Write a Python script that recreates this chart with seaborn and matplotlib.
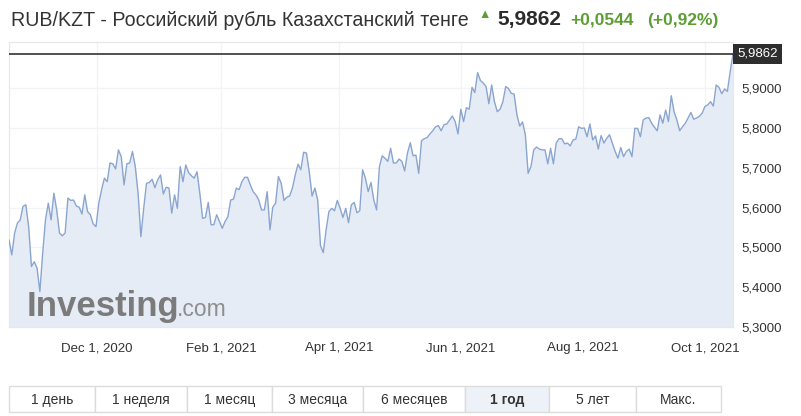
import pandas as pd
import numpy as np
import seaborn as sns
import matplotlib.pyplot as plt
from matplotlib.patches import Rectangle
from matplotlib.ticker import FuncFormatter
from matplotlib.transforms import blended_transform_factory

# RUB/KZT daily closes (Oct 2020 - Oct 2021)
rate = [
    5.519, 5.481, 5.536, 5.561, 5.569, 5.603, 5.607, 5.552, 5.452, 5.464, 5.448, 5.389,
    5.485, 5.569, 5.611, 5.569, 5.636, 5.594, 5.536, 5.529, 5.536, 5.624, 5.618, 5.619,
    5.604, 5.601, 5.584, 5.632, 5.590, 5.582, 5.559, 5.552, 5.611, 5.645, 5.674, 5.665,
    5.712, 5.710, 5.697, 5.745, 5.728, 5.657, 5.710, 5.712, 5.741, 5.703, 5.636, 5.527,
    5.598, 5.661, 5.663, 5.671, 5.650, 5.670, 5.682, 5.634, 5.651, 5.649, 5.586, 5.632,
    5.598, 5.703,
    5.665, 5.707, 5.688, 5.680, 5.674, 5.690, 5.636, 5.573, 5.575, 5.613, 5.557, 5.557,
    5.582, 5.565, 5.548, 5.565, 5.577, 5.619, 5.621, 5.649, 5.645, 5.665, 5.676, 5.676,
    5.657, 5.640, 5.632, 5.619, 5.594, 5.594, 5.640, 5.544, 5.601, 5.611, 5.678, 5.661,
    5.618, 5.626, 5.629, 5.649, 5.682, 5.709, 5.695, 5.739, 5.737, 5.690, 5.629, 5.649,
    5.619, 5.504, 5.487, 5.544, 5.590, 5.598, 5.592, 5.618, 5.598, 5.575, 5.598, 5.562,
    5.607, 5.613, 5.587, 5.592, 5.695, 5.674, 5.640,
    5.663, 5.619, 5.594, 5.703, 5.730, 5.724, 5.716, 5.749, 5.712, 5.712, 5.722, 5.716,
    5.692, 5.737, 5.763, 5.730, 5.732, 5.686, 5.768, 5.773, 5.776, 5.785, 5.793, 5.803,
    5.806, 5.793, 5.808, 5.810, 5.820, 5.830, 5.816, 5.785, 5.847, 5.816, 5.851, 5.847,
    5.902, 5.889, 5.939, 5.919, 5.913, 5.904, 5.861, 5.908, 5.866, 5.841, 5.847, 5.866,
    5.904, 5.899, 5.887, 5.885, 5.833, 5.805, 5.815, 5.783, 5.686, 5.703, 5.745, 5.752,
    5.747, 5.745, 5.745, 5.710, 5.749, 5.710,
    5.762, 5.773, 5.773, 5.760, 5.762, 5.755, 5.770, 5.772, 5.803, 5.799, 5.800, 5.778,
    5.810, 5.770, 5.780, 5.747, 5.781, 5.762, 5.774, 5.783, 5.762, 5.741, 5.724, 5.751,
    5.728, 5.741, 5.747, 5.728, 5.799, 5.799, 5.778, 5.820, 5.825, 5.826, 5.812, 5.802,
    5.793, 5.833, 5.812, 5.845, 5.816, 5.881, 5.841, 5.820, 5.793, 5.803, 5.812, 5.825,
    5.839, 5.822, 5.825, 5.829, 5.837, 5.854, 5.858, 5.866, 5.855, 5.908, 5.902, 5.886,
    5.898, 5.892, 5.942, 5.9862,
]
last_price = 5.9862
tick_dates = ["2020-12-01", "2021-02-01", "2021-04-01", "2021-06-01", "2021-08-01", "2021-10-01"]
tick_labels = ["Dec 1, 2020", "Feb 1, 2021", "Apr 1, 2021", "Jun 1, 2021", "Aug 1, 2021", "Oct 1, 2021"]
y_ticks = [5.3, 5.4, 5.5, 5.6, 5.7, 5.8, 5.9]
buttons = ["1 день", "1 неделя", "1 месяц", "3 месяца", "6 месяцев", "1 год", "5 лет", "Макс."]
button_edges = [9, 95, 187, 272, 363, 465, 549, 636, 721]

sns.set_style("white")
plt.rcParams["font.family"] = ["Liberation Sans", "DejaVu Sans"]

df = pd.DataFrame({"date": pd.date_range("2020-10-18", "2021-10-15", periods=len(rate)),
                   "rate": rate})

W, H = 801, 416
fig = plt.figure(figsize=(W / 100, H / 100), dpi=100)
ax = fig.add_axes([9 / W, 89 / H, 724 / W, 285 / H])

ax.fill_between(df["date"], df["rate"], 5.3, color="#e5ecf5", zorder=1, lw=0)
sns.lineplot(data=df, x="date", y="rate", ax=ax, color="#8aa5d0", lw=1.0, zorder=3)
ax.axhline(last_price, color="#222222", lw=1.1, zorder=4)

ax.set_xlim(df["date"].iloc[0], df["date"].iloc[-1])
ax.set_ylim(5.3, 6.016)
ax.set_xlabel("")
ax.set_ylabel("")

ax.set_xticks(pd.to_datetime(tick_dates))
ax.set_xticklabels(tick_labels)
ax.set_yticks(y_ticks)
ax.yaxis.set_major_formatter(FuncFormatter(lambda v, p: f"{v:.4f}".replace(".", ",")))
ax.yaxis.tick_right()
ax.tick_params(axis="both", length=0, labelsize=9.5, labelcolor="#333333")
ax.tick_params(axis="x", pad=11)
ax.tick_params(axis="y", pad=6)
ax.grid(True, color="#f1f3f6", lw=0.9, zorder=0)
for s in ax.spines.values():
    s.set_color("#e8e8e8")
    s.set_linewidth(0.9)

# current price tag
tr = blended_transform_factory(ax.transAxes, ax.transData)
ax.text(1.006, last_price, "5,9862", transform=tr, ha="left", va="center",
        fontsize=9.5, color="white", zorder=6,
        bbox=dict(boxstyle="square,pad=0.33", fc="#2e2e2e", ec="none"))

# watermark
fig.text(27 / W, 1 - 316 / H, "Investing", fontsize=25, weight="bold",
         color="#7b7b7b", va="baseline", ha="left")
fig.text(177 / W, 1 - 316 / H, ".com", fontsize=16.5, color="#8e8e8e",
         va="baseline", ha="left")

# header
fig.text(11 / W, 1 - 20 / H, "RUB/KZT - Российский рубль Казахстанский тенге",
         fontsize=14.1, color="#333333", va="center", ha="left")
fig.text(485 / W, 1 - 15 / H, "▲", fontsize=9, color="#5c9e34", va="center", ha="center")
fig.text(497 / W, 1 - 20 / H, "5,9862", fontsize=15, weight="bold", color="#2b2b2b",
         va="center", ha="left")
fig.text(570 / W, 1 - 20 / H, "+0,0544", fontsize=12.5, weight="bold", color="#5c9e34",
         va="center", ha="left")
fig.text(647 / W, 1 - 20 / H, "(+0,92%)", fontsize=12.5, weight="bold", color="#5c9e34",
         va="center", ha="left")

# period buttons
for i, lab in enumerate(buttons):
    x0, x1 = button_edges[i], button_edges[i + 1]
    sel = lab == "1 год"
    fig.patches.append(Rectangle((x0 / W, 1 - 412 / H), (x1 - x0) / W, 26 / H,
                                 transform=fig.transFigure, fc="#edf2f9" if sel else "white",
                                 ec="#dcdcdc", lw=1))
    fig.text((x0 + x1) / 2 / W, 1 - 400 / H, lab, fontsize=10, color="#333333",
             weight="bold" if sel else "normal", ha="center", va="center")

fig.savefig("out.png", dpi=100)
